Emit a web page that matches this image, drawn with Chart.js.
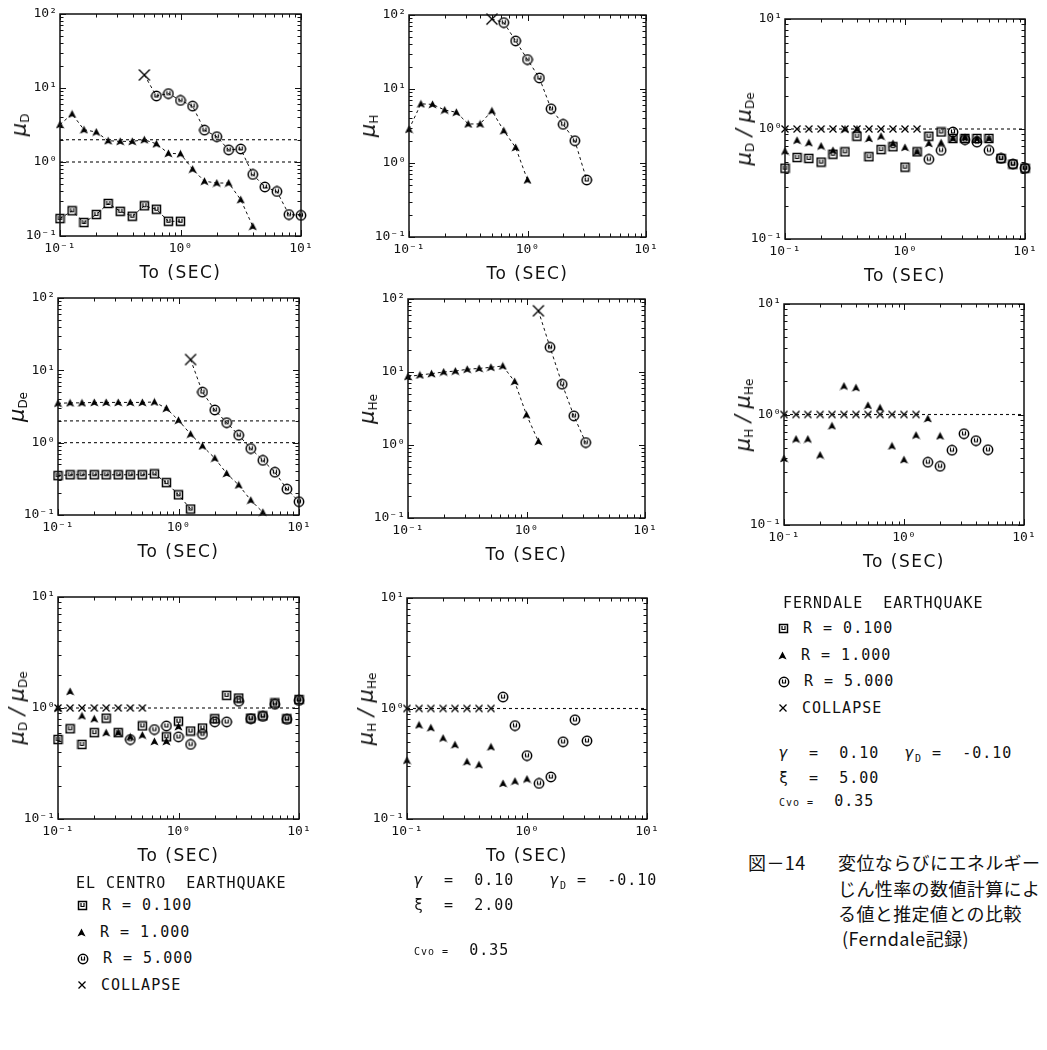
<!DOCTYPE html>
<html><head><meta charset="utf-8">
<script src="https://cdn.jsdelivr.net/npm/chart.js@4.4.0/dist/chart.umd.min.js"></script>
<style>
body{margin:0;background:#fff;}
#wrap{position:relative;width:1047px;height:1050px;overflow:hidden;background:#fff;font-family:"DejaVu Sans Mono",monospace;color:#111;}
#wrap canvas{position:absolute;}
.t{position:absolute;white-space:pre;line-height:1;}
.xt{font-family:"DejaVu Sans",sans-serif;font-size:17px;letter-spacing:1.5px;transform:translateX(-50%);}
.yt{font-family:"DejaVu Sans",sans-serif;font-size:21px;font-style:italic;transform:translate(-50%,-50%) rotate(-90deg);}
.yt sub{font-size:12px;font-style:normal;vertical-align:-3px;}
.lg{font-size:15px;letter-spacing:1px;}
.lg img{vertical-align:middle;margin-right:14px;}
.sm{font-size:10px;}
.cap{font-family:"Noto Sans CJK JP",sans-serif;font-size:18px;letter-spacing:0.4px;}
</style></head>
<body><div id="wrap"></div>
<script>
// ---- periods T0 (sec) ----
const T = [0.1, 0.126, 0.158, 0.2, 0.251, 0.316, 0.398, 0.501, 0.631, 0.794, 1.0, 1.26, 1.58, 2.0, 2.51, 3.16, 3.98, 5.01, 6.31, 7.94, 10.0];
const X_DECADES = [0.1, 1, 10];
const Y_DECADES_MU = [0.1, 1, 10, 100];
const Y_DECADES_RATIO = [0.1, 1, 10];
const TICK_TEXT = ['10⁻¹', '10⁰', '10¹', '10²'];

// Panel A : mu_D
const aSq  = [0.172, 0.219, 0.152, 0.195, 0.275, 0.216, 0.185, 0.256, 0.23, 0.158, 0.158];
const aTri = [3.2, 4.46, 2.73, 2.54, 1.94, 1.9, 1.9, 2.0, 1.76, 1.31, 1.29, 0.8, 0.55, 0.52, 0.52, 0.31, 0.135];
const aCir = [null, null, null, null, null, null, null, 15, 7.8, 8.4, 6.8, 5.7, 2.7, 2.2, 1.46, 1.5, 0.68, 0.46, 0.40, 0.195, 0.19];
const aColIdx = 7;
const aRef = [2, 1];

// Panel B : mu_H
const bTri = [2.85, 6.3, 6.2, 5.2, 4.85, 3.37, 3.37, 5.07, 2.73, 1.62, 0.59];
const bCir = [null, null, null, null, null, null, null, 88, 79, 44.7, 25, 14.1, 5.4, 3.33, 2.0, 0.59];
const bColIdx = 7;

// Panel C : mu_D / mu_De
const cCol = [1, 1, 1, 1, 1, 1, 1, 1, 1, 1, 1, 1];
const cSq  = [0.44, 0.55, 0.54, 0.50, 0.59, 0.62, 0.86, 0.56, 0.65, 0.69, 0.45, 0.62, 0.86, 0.94, 0.82, 0.82, 0.82, 0.82, 0.54, 0.48, 0.44];
const cTri = [0.63, 0.79, 0.75, 0.70, 0.64, 1.0, 1.0, 0.82, 0.86, 0.74, 0.68, 0.62, 0.74, 0.75, 0.82, 0.84, 0.82, 0.82];
const cCir = [null, null, null, null, null, null, null, null, null, null, null, null, 0.53, 0.64, 0.94, 0.80, 0.76, 0.64, 0.54, 0.48, 0.44];
const cRef = [1];

// Panel D : mu_De
const dSq  = [0.35, 0.36, 0.36, 0.36, 0.36, 0.36, 0.36, 0.36, 0.37, 0.28, 0.19, 0.121];
const dTri = [3.5, 3.55, 3.55, 3.6, 3.6, 3.6, 3.6, 3.6, 3.65, 2.98, 2.04, 1.31, 0.90, 0.61, 0.375, 0.26, 0.16, 0.109];
const dCir = [null, null, null, null, null, null, null, null, null, null, null, 14.1, 5.0, 2.83, 1.89, 1.27, 0.83, 0.57, 0.39, 0.228, 0.153];
const dColIdx = 11;
const dRef = [2, 1];

// Panel E : mu_He
const eTri = [8.67, 9.1, 9.5, 10, 10.3, 10.9, 11.2, 11.6, 12.1, 7.4, 2.59, 1.12];
const eCir = [null, null, null, null, null, null, null, null, null, null, null, 69, 21.8, 6.8, 2.51, 1.08];
const eColIdx = 11;

// Panel F : mu_H / mu_He
const fCol = [1, 1, 1, 1, 1, 1, 1, 1, 1, 1, 1, 1];
const fTri = [0.40, 0.60, 0.60, 0.43, 0.79, 1.81, 1.75, 1.21, 1.15, 0.52, 0.39, 0.65, 0.92, 0.64];
const fCir = [null, null, null, null, null, null, null, null, null, null, null, null, 0.37, 0.34, 0.475, 0.67, 0.58, 0.48];
const fRef = [1];

// Panel G : mu_D / mu_De (El Centro)
const gCol = [1, 1, 1, 1, 1, 1, 1, 1];
const gSq  = [0.52, 0.65, 0.47, 0.60, 0.81, 0.60, null, 0.69, null, 0.55, 0.76, 0.62, 0.66, 0.80, 1.30, 1.23, 0.81, 0.85, 1.11, 0.80, 1.19];
const gTri = [1.0, 1.41, 0.85, 0.80, 0.60, 0.60, 0.55, 0.57, 0.50, 0.50, 0.68];
const gCir = [null, null, null, null, null, null, 0.52, null, 0.64, 0.69, 0.55, 0.47, 0.58, 0.75, 0.75, 1.15, 0.80, 0.84, 1.08, 0.79, 1.17];
const gRef = [1];

// Panel H : mu_H / mu_He (El Centro)
const hCol = [1, 1, 1, 1, 1, 1, 1, 1];
const hTri = [0.34, 0.71, 0.67, 0.54, 0.47, 0.33, 0.31, 0.45, 0.21, 0.22, 0.23];
const hCir = [null, null, null, null, null, null, null, null, 1.27, 0.70, 0.375, 0.21, 0.24, 0.50, 0.79, 0.51];
const hRef = [1];

// ---------- marker glyphs ----------
function mk(w, h, fn) {
  const c = document.createElement('canvas'); c.width = w; c.height = h;
  const g = c.getContext('2d'); g.strokeStyle = '#000'; g.fillStyle = '#000'; g.lineWidth = 1.5; fn(g); return c;
}
const IMG = {
  sq: mk(11, 11, g => { g.strokeRect(1.5, 1.5, 8, 8); g.lineWidth = 1.2; g.beginPath(); g.moveTo(4, 3); g.lineTo(4, 6.5); g.lineTo(7, 6.5); g.lineTo(7, 3); g.stroke(); }),
  tri: mk(9, 9, g => { g.beginPath(); g.moveTo(4.5, 0.5); g.lineTo(8.6, 8.5); g.lineTo(4.5, 6.8); g.lineTo(0.4, 8.5); g.closePath(); g.fill(); }),
  cir: mk(12, 12, g => { g.beginPath(); g.arc(6, 6, 4.7, 0, Math.PI * 2); g.stroke(); g.lineWidth = 1.2; g.beginPath(); g.moveTo(4.5, 3.5); g.lineTo(4.5, 7); g.lineTo(7.5, 7); g.lineTo(7.5, 3.5); g.stroke(); }),
  xb: mk(14, 14, g => { g.lineWidth = 1.4; g.beginPath(); g.moveTo(1.5, 1.5); g.lineTo(12.5, 12.5); g.moveTo(12.5, 1.5); g.lineTo(1.5, 12.5); g.stroke(); }),
  xs: mk(10, 10, g => { g.lineWidth = 1.3; g.beginPath(); g.moveTo(1.5, 1.5); g.lineTo(8.5, 8.5); g.moveTo(8.5, 1.5); g.lineTo(1.5, 8.5); g.stroke(); })
};

const PANELS = [
  { box: [60, 14, 241, 222], y: Y_DECADES_MU, title: 'μ<sub>D</sub>', ref: aRef,
    series: [{ v: aSq, st: 'sq', line: true }, { v: aTri, st: 'tri', line: true }, { v: aCir, st: 'cir', line: true, col: aColIdx }] },
  { box: [409, 15, 237, 222], y: Y_DECADES_MU, title: 'μ<sub>H</sub>', ref: [],
    series: [{ v: bTri, st: 'tri', line: true }, { v: bCir, st: 'cir', line: true, col: bColIdx }] },
  { box: [785, 19, 240, 220], y: Y_DECADES_RATIO, title: 'μ<sub>D</sub> / μ<sub>De</sub>', ref: cRef,
    series: [{ v: cCol, st: 'xs', line: false }, { v: cSq, st: 'sq', line: false }, { v: cTri, st: 'tri', line: false }, { v: cCir, st: 'cir', line: false }] },
  { box: [58, 298, 241, 217], y: Y_DECADES_MU, title: 'μ<sub>De</sub>', ref: dRef,
    series: [{ v: dSq, st: 'sq', line: true }, { v: dTri, st: 'tri', line: true }, { v: dCir, st: 'cir', line: true, col: dColIdx }] },
  { box: [408, 299, 237, 219], y: Y_DECADES_MU, title: 'μ<sub>He</sub>', ref: [],
    series: [{ v: eTri, st: 'tri', line: true }, { v: eCir, st: 'cir', line: true, col: eColIdx }] },
  { box: [784, 304, 240, 221], y: Y_DECADES_RATIO, title: 'μ<sub>H</sub> / μ<sub>He</sub>', ref: fRef,
    series: [{ v: fCol, st: 'xs', line: false }, { v: fTri, st: 'tri', line: false }, { v: fCir, st: 'cir', line: false }] },
  { box: [58, 597, 241, 222], y: Y_DECADES_RATIO, title: 'μ<sub>D</sub> / μ<sub>De</sub>', ref: gRef,
    series: [{ v: gCol, st: 'xs', line: false }, { v: gSq, st: 'sq', line: false }, { v: gTri, st: 'tri', line: false }, { v: gCir, st: 'cir', line: false }] },
  { box: [407, 598, 240, 221], y: Y_DECADES_RATIO, title: 'μ<sub>H</sub> / μ<sub>He</sub>', ref: hRef,
    series: [{ v: hCol, st: 'xs', line: false }, { v: hTri, st: 'tri', line: false }, { v: hCir, st: 'cir', line: false }] }
];

function logTicks(decs) {
  const out = [];
  for (let i = 0; i < decs.length; i++) {
    if (i === decs.length - 1) { out.push({ value: decs[i] }); break; }
    for (let m = 1; m <= 9; m++) out.push({ value: +(decs[i] * m).toPrecision(6) });
  }
  return out;
}
function isMajor(v) { const l = Math.log10(v); return Math.abs(l - Math.round(l)) < 1e-6; }
function tickText(v) { return isMajor(v) ? TICK_TEXT[Math.round(Math.log10(v)) + 1] : ''; }

const framePlugin = {
  id: 'frame',
  afterDatasetsDraw(chart) {
    const { ctx, chartArea: a, scales: { x, y } } = chart;
    ctx.save();
    ctx.strokeStyle = '#111';
    ctx.lineWidth = 1.5;
    ctx.strokeRect(a.left, a.top, a.right - a.left, a.bottom - a.top);
    ctx.lineWidth = 1;
    ctx.beginPath();
    x.ticks.forEach(t => {
      const px = Math.round(x.getPixelForValue(t.value)) + 0.5, L = isMajor(t.value) ? 6 : 3.5;
      ctx.moveTo(px, a.bottom); ctx.lineTo(px, a.bottom - L);
      ctx.moveTo(px, a.top); ctx.lineTo(px, a.top + L);
    });
    y.ticks.forEach(t => {
      const py = Math.round(y.getPixelForValue(t.value)) + 0.5, L = isMajor(t.value) ? 6 : 3.5;
      ctx.moveTo(a.left, py); ctx.lineTo(a.left + L, py);
      ctx.moveTo(a.right, py); ctx.lineTo(a.right - L, py);
    });
    ctx.stroke();
    ctx.restore();
  }
};

const wrap = document.getElementById('wrap');
const PADL = 60, PADT = 14, PADR = 32, PADB = 30;

function addText(cls, x, y, html) {
  const d = document.createElement('div'); d.className = 't ' + cls;
  d.style.left = x + 'px'; d.style.top = y + 'px'; d.innerHTML = html; wrap.appendChild(d); return d;
}

PANELS.forEach(p => {
  const [L, Tp, W, H] = p.box;
  const cv = document.createElement('canvas');
  cv.width = W + PADL + PADR; cv.height = H + PADT + PADB;
  cv.style.left = (L - PADL) + 'px'; cv.style.top = (Tp - PADT) + 'px';
  wrap.appendChild(cv);
  const datasets = [];
  p.ref.forEach(r => datasets.push({
    data: [{ x: X_DECADES[0], y: r }, { x: X_DECADES[X_DECADES.length - 1], y: r }],
    borderColor: '#111', borderWidth: 1.1, borderDash: [3, 3], pointRadius: 0, showLine: true, clip: false
  }));
  p.series.forEach(s => {
    const data = T.map((t, i) => (s.v[i] == null ? null : { x: t, y: s.v[i], c: i === s.col })).filter(Boolean);
    const img = IMG[s.st];
    datasets.push({
      data, showLine: s.line, borderColor: '#111', borderWidth: 1, borderDash: [3, 3],
      pointStyle: ctx => (ctx.raw && ctx.raw.c ? IMG.xb : img),
      pointRadius: 4, pointHoverRadius: 4, clip: false
    });
  });
  const yMin = p.y[0], yMax = p.y[p.y.length - 1];
  new Chart(cv, {
    type: 'line',
    data: { datasets },
    plugins: [framePlugin],
    options: {
      responsive: false, animation: false, devicePixelRatio: 1, events: [],
      layout: { padding: { left: 0, top: PADT, right: PADR, bottom: 0 } },
      plugins: { legend: { display: false }, tooltip: { enabled: false } },
      scales: {
        x: {
          type: 'logarithmic', min: X_DECADES[0], max: X_DECADES[X_DECADES.length - 1],
          grid: { display: false, drawTicks: false }, border: { display: false },
          afterBuildTicks: s => { s.ticks = logTicks(X_DECADES); },
          afterFit: s => { s.height = PADB; },
          ticks: { autoSkip: false, maxRotation: 0, minRotation: 0, padding: 5, color: '#111',
            font: { family: 'DejaVu Sans Mono', size: 13 }, callback: v => tickText(v) }
        },
        y: {
          type: 'logarithmic', min: yMin, max: yMax,
          grid: { display: false, drawTicks: false }, border: { display: false },
          afterBuildTicks: s => { s.ticks = logTicks(p.y); },
          afterFit: s => { s.width = PADL; },
          ticks: { autoSkip: false, padding: 3, color: '#111',
            font: { family: 'DejaVu Sans Mono', size: 13 }, callback: v => tickText(v) }
        }
      }
    }
  });
  addText('xt', L + W / 2, Tp + H + 28, 'To (SEC)');
  addText('yt', L - 40, Tp + H / 2, p.title);
});

// ---------- legends ----------
const symImg = k => '<img src="' + IMG[k].toDataURL() + '">';
const LEG_EC = ['EL CENTRO  EARTHQUAKE', 'R = 0.100', 'R = 1.000', 'R = 5.000', 'COLLAPSE'];
const LEG_FD = ['FERNDALE  EARTHQUAKE', 'R = 0.100', 'R = 1.000', 'R = 5.000', 'COLLAPSE'];
const LEG_SYMS = ['sq', 'tri', 'cir', 'xs'];

addText('lg', 76, 876, LEG_EC[0]);
LEG_SYMS.forEach((k, i) => addText('lg', 77, 898 + i * 26.5, symImg(k) + LEG_EC[i + 1]));

addText('lg', 414, 873, '<i>γ</i>  =  0.10');
addText('lg', 550, 873, '<i>γ</i><sub style="font-size:10px">D</sub> =  -0.10');
addText('lg', 414, 898, 'ξ  =  2.00');
addText('lg', 414, 943, '<span class="sm">Cvo =</span>  0.35');

addText('lg', 783, 596, LEG_FD[0]);
LEG_SYMS.forEach((k, i) => addText('lg', 778, 621 + i * 26.5, symImg(k) + LEG_FD[i + 1]));
addText('lg', 779, 746, '<i>γ</i>  =  0.10');
addText('lg', 905, 746, '<i>γ</i><sub style="font-size:10px">D</sub> =  -0.10');
addText('lg', 779, 771, 'ξ  =  5.00');
addText('lg', 779, 794, '<span class="sm">Cvo =</span>  0.35');

// caption
addText('cap', 748, 853, '図－14');
addText('cap', 838, 853, '変位ならびにエネルギー');
addText('cap', 838, 879, 'じん性率の数値計算によ');
addText('cap', 838, 904, 'る値と推定値との比較');
addText('cap', 842, 929, '(Ferndale記録)');
</script>
</body></html>
